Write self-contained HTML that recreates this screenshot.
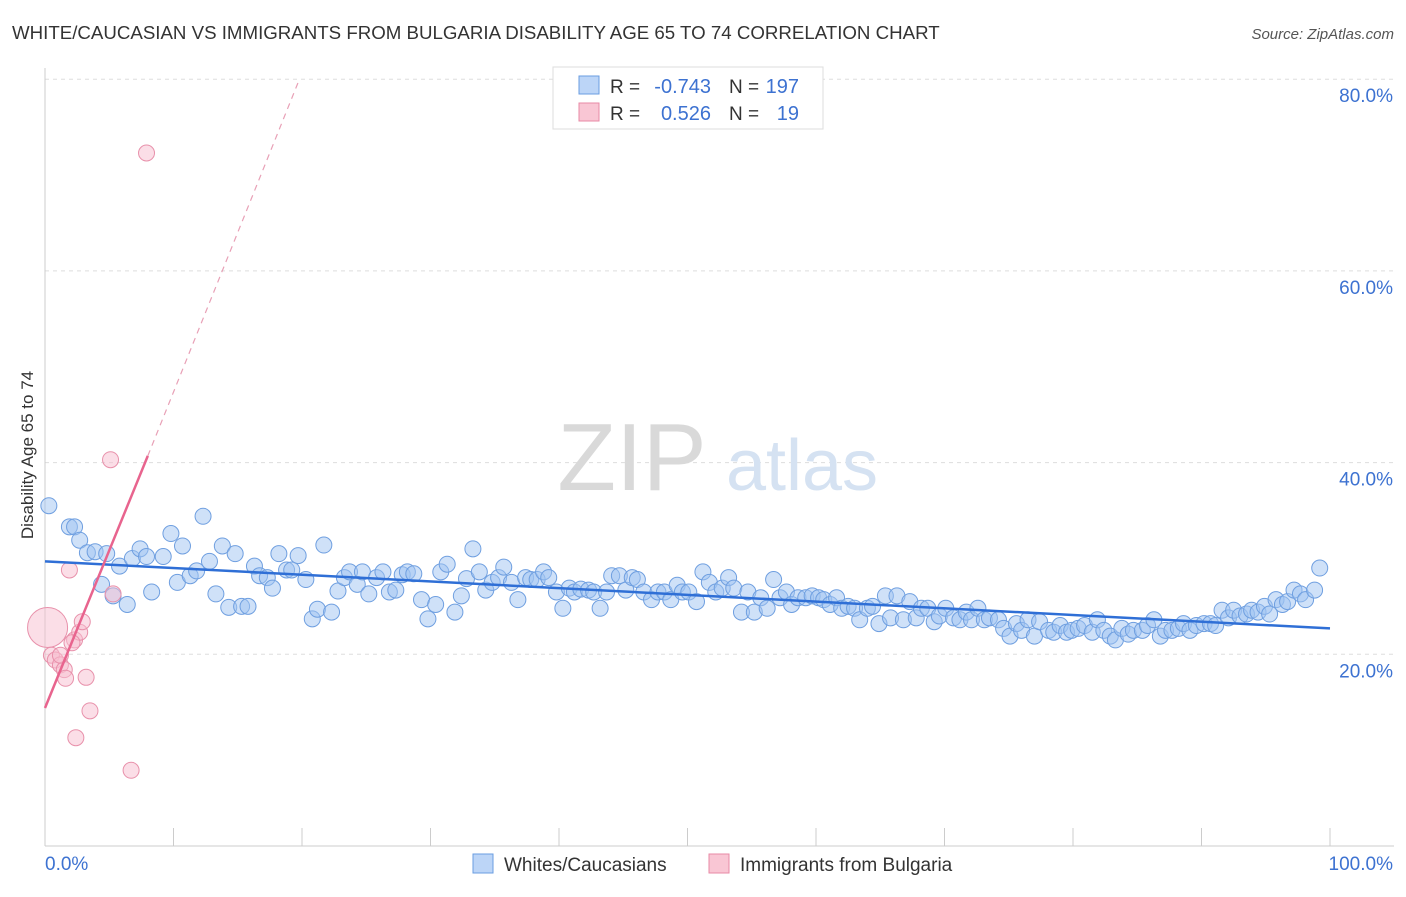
<!DOCTYPE html>
<html><head><meta charset="utf-8"><style>
body{margin:0;background:#fff;font-family:"Liberation Sans",sans-serif}
svg text{font-family:"Liberation Sans",sans-serif}
</style></head><body>
<svg id="chart" width="1406" height="892" viewBox="0 0 1406 892" xmlns="http://www.w3.org/2000/svg">
<text x="12" y="39" font-size="18.7" fill="#333">WHITE/CAUCASIAN VS IMMIGRANTS FROM BULGARIA DISABILITY AGE 65 TO 74 CORRELATION CHART</text>
<text x="1394" y="39" font-size="15" fill="#555" text-anchor="end" font-style="italic">Source: ZipAtlas.com</text>
<g id="grid"></g>
<g>
<text x="632" y="490" font-size="96" fill="#d9d9d9" font-family="Liberation Serif" text-anchor="middle">ZIP</text>
<text x="802" y="490" font-size="72" fill="#d5e2f2" text-anchor="middle">atlas</text>
</g>
<g id="pts"></g>
<g id="trends"></g>
<text transform="translate(33,455) rotate(-90)" font-size="17" fill="#333" text-anchor="middle">Disability Age 65 to 74</text>
<g>
<rect x="553" y="67" width="270" height="62" fill="#fff" stroke="#ddd"/>
<rect x="579" y="76" width="20" height="18" fill="#bcd5f7" stroke="#6a9de0"/>
<rect x="579" y="103" width="20" height="18" fill="#f9c6d4" stroke="#e88aa6"/>
<text x="610" y="93" font-size="19" fill="#333">R =</text>
<text x="711" y="93" font-size="20" fill="#3d72d1" text-anchor="end">-0.743</text>
<text x="729" y="93" font-size="19" fill="#333">N =</text>
<text x="799" y="93" font-size="20" fill="#3d72d1" text-anchor="end">197</text>
<text x="610" y="120" font-size="19" fill="#333">R =</text>
<text x="711" y="120" font-size="20" fill="#3d72d1" text-anchor="end">0.526</text>
<text x="729" y="120" font-size="19" fill="#333">N =</text>
<text x="799" y="120" font-size="20" fill="#3d72d1" text-anchor="end">19</text>
</g>
<g>
<rect x="473" y="854" width="20" height="19" fill="#bcd5f7" stroke="#6a9de0"/>
<text x="504" y="871" font-size="19" fill="#333">Whites/Caucasians</text>
<rect x="709" y="854" width="20" height="19" fill="#f9c6d4" stroke="#e88aa6"/>
<text x="740" y="871" font-size="19" fill="#333">Immigrants from Bulgaria</text>
</g>
</svg>
<script>
const yTicks=[20,40,60,80];
const yTickLabels=["20.0%","40.0%","60.0%","80.0%"];
const xTicks=[0,10,20,30,40,50,60,70,80,90,100];
const blueX=[0.3,1.9,2.3,2.7,3.3,3.9,4.4,4.8,5.3,5.8,6.4,6.8,7.4,7.9,8.3,9.2,9.8,10.3,10.7,11.3,11.8,12.3,12.8,13.3,13.8,14.3,14.8,15.3,15.8,16.3,16.7,17.3,17.7,18.2,18.8,19.2,19.7,20.3,20.8,21.2,21.7,22.3,22.8,23.3,23.7,24.3,24.7,25.2,25.8,26.3,26.8,27.3,27.8,28.2,28.7,29.3,29.8,30.4,30.8,31.3,31.9,32.4,32.8,33.3,33.8,34.3,34.8,35.3,35.7,36.3,36.8,37.4,37.8,38.3,38.8,39.2,39.8,40.3,40.8,41.2,41.7,42.3,42.7,43.2,43.7,44.1,44.7,45.2,45.7,46.1,46.6,47.2,47.7,48.2,48.7,49.2,49.6,50.1,50.7,51.2,51.7,52.2,52.7,53.2,53.6,54.2,54.7,55.2,55.7,56.2,56.7,57.2,57.7,58.1,58.6,59.2,59.7,60.2,60.6,61.1,61.6,62.0,62.5,63.0,63.4,64.0,64.4,64.9,65.4,65.8,66.3,66.8,67.3,67.8,68.2,68.7,69.2,69.6,70.1,70.7,71.2,71.7,72.1,72.6,73.1,73.5,74.2,74.6,75.1,75.6,76.0,76.5,77.0,77.4,78.1,78.5,79.0,79.5,79.9,80.4,80.9,81.5,81.9,82.4,82.9,83.3,83.8,84.3,84.7,85.4,85.8,86.3,86.8,87.2,87.7,88.2,88.6,89.1,89.6,90.2,90.7,91.1,91.6,92.1,92.5,93.0,93.5,93.9,94.4,94.9,95.3,95.8,96.3,96.7,97.2,97.7,98.1,98.8,99.2];
const blueY=[35.5,33.3,33.3,31.9,30.6,30.7,27.3,30.5,26.1,29.2,25.2,30.0,31.0,30.2,26.5,30.2,32.6,27.5,31.3,28.2,28.7,34.4,29.7,26.3,31.3,24.9,30.5,25.0,25.0,29.2,28.2,28.0,26.9,30.5,28.8,28.8,30.3,27.8,23.7,24.7,31.4,24.4,26.6,28.0,28.6,27.3,28.6,26.3,28.0,28.6,26.5,26.7,28.3,28.6,28.4,25.7,23.7,25.2,28.6,29.4,24.4,26.1,27.9,31.0,28.6,26.7,27.5,28.0,29.1,27.5,25.7,28.0,27.8,27.8,28.6,28.0,26.5,24.8,26.9,26.5,26.8,26.7,26.5,24.8,26.5,28.2,28.2,26.7,28.0,27.8,26.5,25.7,26.5,26.5,25.7,27.2,26.5,26.5,25.5,28.6,27.5,26.5,26.9,28.0,26.9,24.4,26.5,24.4,25.9,24.8,27.8,25.9,26.5,25.2,25.9,25.9,26.1,25.9,25.7,25.2,25.9,24.8,25.0,24.8,23.6,24.8,25.0,23.2,26.1,23.8,26.1,23.6,25.5,23.8,24.8,24.8,23.4,24.0,24.8,23.8,23.6,24.4,23.6,24.8,23.6,23.8,23.6,22.7,21.9,23.2,22.5,23.6,21.9,23.4,22.5,22.3,23.0,22.3,22.5,22.7,23.0,22.3,23.6,22.5,21.9,21.5,22.7,22.1,22.5,22.5,23.0,23.6,21.9,22.5,22.5,22.7,23.2,22.5,23.0,23.2,23.2,23.0,24.6,23.8,24.6,24.0,24.2,24.6,24.4,25.0,24.2,25.7,25.2,25.5,26.7,26.3,25.7,26.7,29.0];
const pinkX=[0.2,0.5,0.8,1.2,1.5,1.6,1.9,2.3,2.4,2.7,2.9,3.2,3.5,5.1,5.3,6.7,7.9,1.2,2.1];
const pinkY=[22.8,19.9,19.4,18.9,18.4,17.5,28.8,21.5,11.3,22.3,23.4,17.6,14.1,40.3,26.3,7.9,72.3,19.9,21.2];
const blueTrend=[0,29.7,100,22.7];
const pinkTrend=[0,14.4,8,40.7,19.8,80];

const NS="http://www.w3.org/2000/svg";
const X0=45,X1=1330,Y0=846,YPER=9.585;
function sx(v){return X0+(X1-X0)*v/100;}
function sy(v){return Y0-v*YPER;}
function mk(tag,attrs,parent){const e=document.createElementNS(NS,tag);for(const k in attrs)e.setAttribute(k,attrs[k]);parent.appendChild(e);return e;}
const grid=document.getElementById('grid');
yTicks.forEach((t,i)=>{
  const l=mk('line',{x1:45,x2:1394,y1:sy(t),y2:sy(t),stroke:'#ddd','stroke-dasharray':'4,4'},grid);
  
  
  const tx=mk('text',{x:1393,y:sy(t)+23,'font-size':19,fill:'#3d72d1','text-anchor':'end'},grid);
  tx.textContent=yTickLabels[i];
  
  
});
const ax=mk('line',{x1:45,x2:1394,y1:846,y2:846,stroke:'#ccc'},grid);


const ay=mk('line',{x1:45,x2:45,y1:68,y2:846,stroke:'#ccc'},grid);


xTicks.forEach(t=>{
  const l=mk('line',{x1:sx(t),x2:sx(t),y1:828,y2:846,stroke:'#ccc'},grid);
  
  
});
const xl0=mk('text',{x:45,y:870,'font-size':19,fill:'#3d72d1'},grid);xl0.textContent='0.0%';


const xl1=mk('text',{x:1393,y:870,'font-size':19,fill:'#3d72d1','text-anchor':'end'},grid);xl1.textContent='100.0%';


const pts=document.getElementById('pts');
const n=Math.min(blueX.length,blueY.length);
for(let i=0;i<n;i++){
  const c=mk('circle',{cx:sx(blueX[i]),cy:sy(blueY[i]),r:8,fill:'rgba(160,195,242,0.5)',stroke:'#6f9fe0','stroke-width':1},pts);
  
  
}
for(let i=0;i<pinkX.length;i++){
  const c=mk('circle',{cx:sx(pinkX[i]),cy:sy(pinkY[i]),r:i===0?20:8,fill:'rgba(248,190,208,0.5)',stroke:'#e891ab','stroke-width':1},pts);
  
  
}
const tr=document.getElementById('trends');
const bl=mk('line',{x1:sx(blueTrend[0]),y1:sy(blueTrend[1]),x2:sx(blueTrend[2]),y2:sy(blueTrend[3]),stroke:'#2f6fd6','stroke-width':2.5},tr);


const pl=mk('line',{x1:sx(pinkTrend[0]),y1:sy(pinkTrend[1]),x2:sx(pinkTrend[2]),y2:sy(pinkTrend[3]),stroke:'#e8648e','stroke-width':2.5},tr);


const pd=mk('line',{x1:sx(pinkTrend[2]),y1:sy(pinkTrend[3]),x2:sx(pinkTrend[4]),y2:sy(pinkTrend[5]),stroke:'#e8a0b6','stroke-width':1.2,'stroke-dasharray':'6,5'},tr);


</script>
</body></html>
